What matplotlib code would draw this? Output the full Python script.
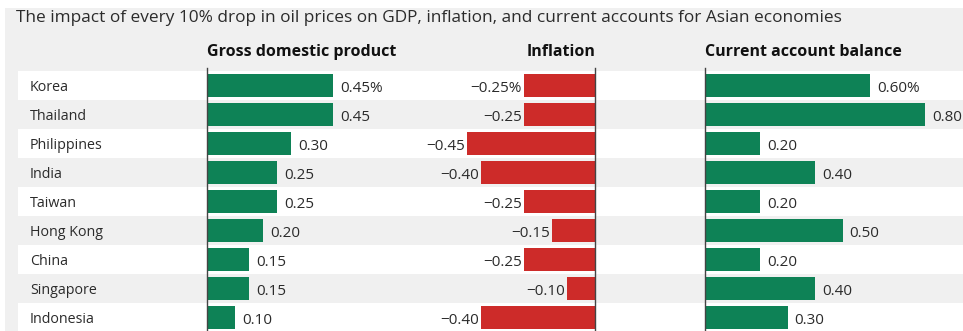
import matplotlib
matplotlib.use("Agg")
import matplotlib.pyplot as plt
from matplotlib.patches import Rectangle

countries = ["Korea", "Thailand", "Philippines", "India", "Taiwan",
             "Hong Kong", "China", "Singapore", "Indonesia"]
gdp = [0.45, 0.45, 0.30, 0.25, 0.25, 0.20, 0.15, 0.15, 0.10]
inflation = [-0.25, -0.25, -0.45, -0.40, -0.25, -0.15, -0.25, -0.10, -0.40]
current_account = [0.60, 0.80, 0.20, 0.40, 0.20, 0.50, 0.20, 0.40, 0.30]

title = "The impact of every 10% drop in oil prices on GDP, inflation, and current accounts for Asian economies"
headers = ["Gross domestic product", "Inflation", "Current account balance"]

plt.rcParams['font.family'] = ['Open Sans', 'DejaVu Sans']

W, H = 963, 331
fig = plt.figure(figsize=(W / 100, H / 100), dpi=100, facecolor="white")

GREEN = "#0e8256"
RED = "#cd2b29"
BG = "#f0f0f0"
TXT = "#2b2b2b"

def px_axes(x0, x1, y0, y1, **kw):
    return fig.add_axes([x0 / W, 1 - y1 / H, (x1 - x0) / W, (y1 - y0) / H], **kw)

# outer gray panel
axpanel = fig.add_axes([0, 0, 1, 1], zorder=-2)
axpanel.set_xlim(0, W)
axpanel.set_ylim(H, 0)
axpanel.axis("off")
axpanel.add_patch(Rectangle((5, 8), W, H, facecolor=BG, edgecolor="none"))

n = len(countries)
ROW_TOP, ROW_H = 71, 29
ytop, ybot = ROW_TOP, ROW_TOP + ROW_H * n

# row bands
axbg = px_axes(18, 963, ytop, ybot, zorder=-1)
axbg.patch.set_alpha(0)
axbg.set_xlim(0, 1)
axbg.set_ylim(n - 0.5, -0.5)
axbg.axis("off")
for i, c in enumerate(countries):
    if i % 2 == 0:
        axbg.axhspan(i - 0.5, i + 0.5, color="white", lw=0)
    axbg.text(12 / 945, i + 0.07, c, va="center", ha="left", fontsize=10.3, color=TXT)

fig.text(16 / W, 1 - 18 / H, title, fontsize=12.4, color=TXT, va="center", ha="left")

panels = [
    (gdp, 207, 281, 180, 460, GREEN, "left"),
    (inflation, 595, 284, 440, 625, RED, "right"),
    (current_account, 705, 275, 680, 963, GREEN, "left"),
]

for k, (vals, zero, scale, x0, x1, color, halign) in enumerate(panels):
    ax = px_axes(x0, x1, ytop, ybot)
    ax.patch.set_alpha(0)
    ax.set_xlim((x0 - zero) / scale, (x1 - zero) / scale)
    ax.set_ylim(n - 0.5, -0.5)
    ax.axis("off")
    ax.barh(range(n), vals, height=0.77, color=color, zorder=2)
    ax.plot([0, 0], [-0.62, n - 0.5], color="#444444", lw=1.0, clip_on=False, zorder=3)
    for i, v in enumerate(vals):
        s = f"{abs(v):.2f}"
        if v < 0:
            s = "\u2212" + s
        if i == 0:
            s += "%"
        if v >= 0:
            ax.text(v + 7 / scale, i + 0.1, s, va="center", ha="left", fontsize=11, color=TXT)
        else:
            ax.text(v - 2 / scale, i + 0.1, s, va="center", ha="right", fontsize=11, color=TXT)
    ax.text(0, -0.5 - 19 / ROW_H, headers[k], ha=halign, va="center",
            fontsize=11.5, fontweight="bold", color="#111111", clip_on=False)

fig.savefig("out.png", dpi=100, facecolor=fig.get_facecolor())
